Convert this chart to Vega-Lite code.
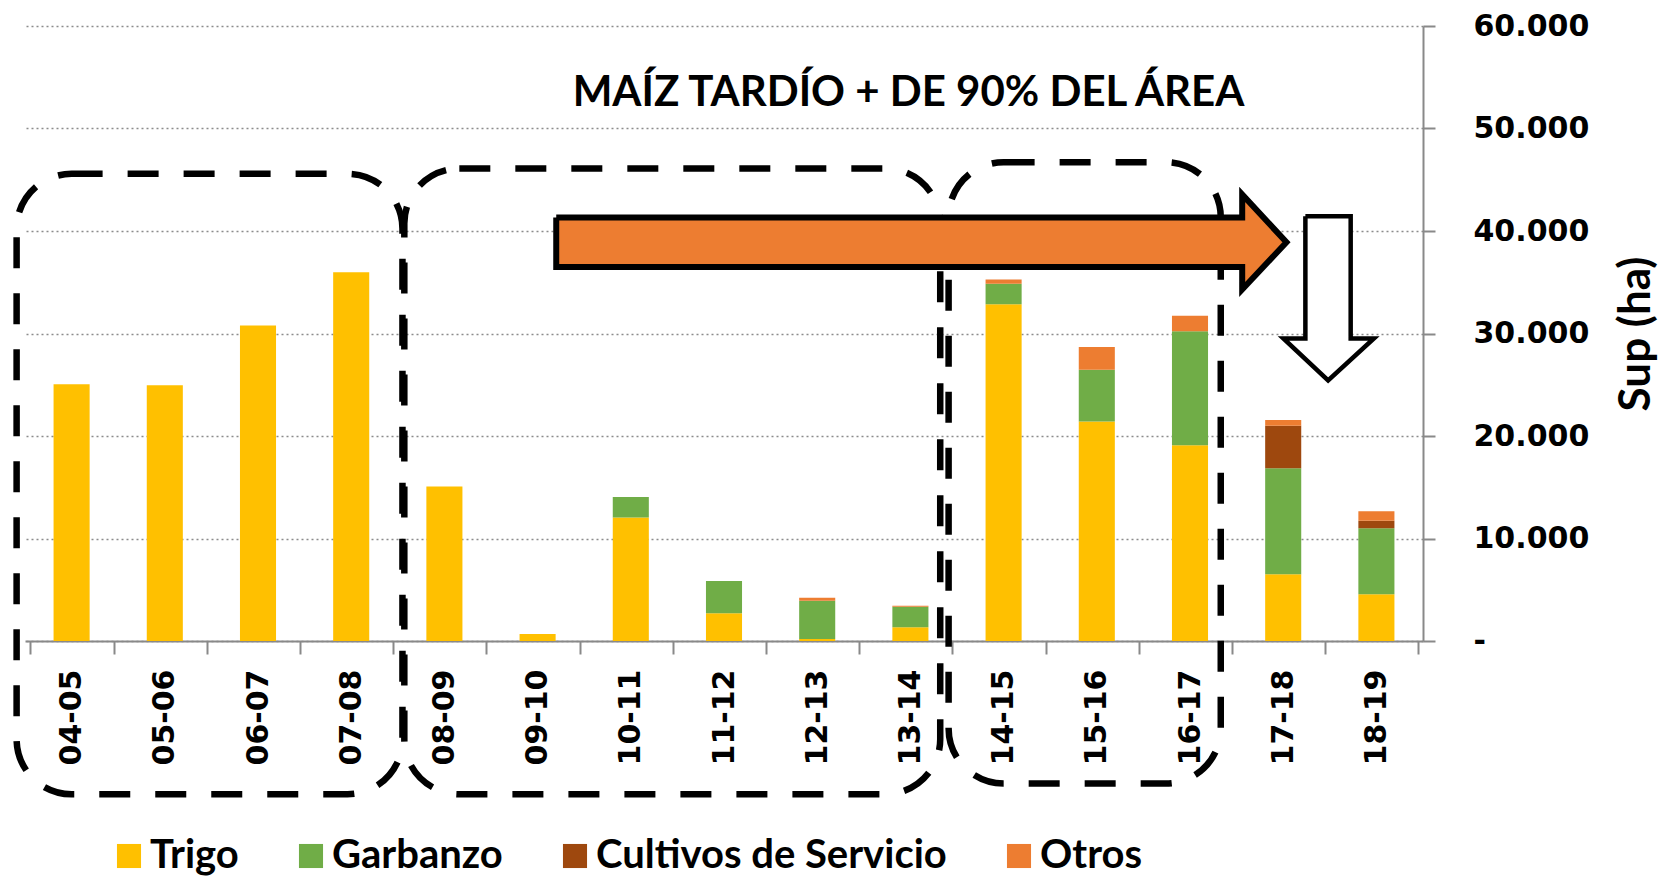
{
  "$schema": "https://vega.github.io/schema/vega-lite/v6.json",
  "width": 1398,
  "height": 615,
  "autosize": "none",
  "padding": {"left": 25, "top": 26, "right": 248, "bottom": 236},
  "background": "white",
  "config": {"view": {"stroke": null}},
  "datasets": {
    "cultivos": [
      {"campania": "04-05", "cultivo": "Trigo", "ha": 25050},
      {"campania": "05-06", "cultivo": "Trigo", "ha": 24950},
      {"campania": "06-07", "cultivo": "Trigo", "ha": 30780},
      {"campania": "07-08", "cultivo": "Trigo", "ha": 35970},
      {"campania": "08-09", "cultivo": "Trigo", "ha": 15080},
      {"campania": "09-10", "cultivo": "Trigo", "ha": 690},
      {"campania": "10-11", "cultivo": "Trigo", "ha": 12050},
      {"campania": "10-11", "cultivo": "Garbanzo", "ha": 1990},
      {"campania": "11-12", "cultivo": "Trigo", "ha": 2700},
      {"campania": "11-12", "cultivo": "Garbanzo", "ha": 3150},
      {"campania": "12-13", "cultivo": "Trigo", "ha": 200},
      {"campania": "12-13", "cultivo": "Garbanzo", "ha": 3720},
      {"campania": "12-13", "cultivo": "Otros", "ha": 310},
      {"campania": "13-14", "cultivo": "Trigo", "ha": 1350},
      {"campania": "13-14", "cultivo": "Garbanzo", "ha": 1980},
      {"campania": "13-14", "cultivo": "Otros", "ha": 120},
      {"campania": "14-15", "cultivo": "Trigo", "ha": 32850},
      {"campania": "14-15", "cultivo": "Garbanzo", "ha": 2000},
      {"campania": "14-15", "cultivo": "Otros", "ha": 420},
      {"campania": "15-16", "cultivo": "Trigo", "ha": 21420},
      {"campania": "15-16", "cultivo": "Garbanzo", "ha": 5050},
      {"campania": "15-16", "cultivo": "Otros", "ha": 2220},
      {"campania": "16-17", "cultivo": "Trigo", "ha": 19100},
      {"campania": "16-17", "cultivo": "Garbanzo", "ha": 11130},
      {"campania": "16-17", "cultivo": "Otros", "ha": 1500},
      {"campania": "17-18", "cultivo": "Trigo", "ha": 6520},
      {"campania": "17-18", "cultivo": "Garbanzo", "ha": 10340},
      {"campania": "17-18", "cultivo": "Cultivos de Servicio", "ha": 4140},
      {"campania": "17-18", "cultivo": "Otros", "ha": 560},
      {"campania": "18-19", "cultivo": "Trigo", "ha": 4550},
      {"campania": "18-19", "cultivo": "Garbanzo", "ha": 6450},
      {"campania": "18-19", "cultivo": "Cultivos de Servicio", "ha": 720},
      {"campania": "18-19", "cultivo": "Otros", "ha": 930}
    ],
    "recuadros": [
      {"desde": -0.09, "hasta": 4.05, "arriba": 45580, "abajo": -14950},
      {"desde": 4.07, "hasta": 9.82, "arriba": 46100, "abajo": -14950},
      {"desde": 9.91, "hasta": 12.83, "arriba": 46710, "abajo": -13900}
    ],
    "flecha_naranja": [
      {"i": 0, "px": 5.70, "py": 41316},
      {"i": 1, "px": 13.06, "py": 41316},
      {"i": 2, "px": 13.06, "py": 43560},
      {"i": 3, "px": 13.535, "py": 38907},
      {"i": 4, "px": 13.06, "py": 34293},
      {"i": 5, "px": 13.06, "py": 36487},
      {"i": 6, "px": 5.70, "py": 36487},
      {"i": 7, "px": 5.70, "py": 41316}
    ],
    "flecha_blanca": [
      {"i": 0, "px": 13.738, "py": 41444},
      {"i": 1, "px": 14.224, "py": 41444},
      {"i": 2, "px": 14.224, "py": 29512},
      {"i": 3, "px": 14.473, "py": 29512},
      {"i": 4, "px": 13.982, "py": 25415},
      {"i": 5, "px": 13.502, "py": 29512},
      {"i": 6, "px": 13.738, "py": 29512},
      {"i": 7, "px": 13.738, "py": 41444}
    ],
    "titulo": [
      {"px": 9.48, "py": 53500, "texto": "MAÍZ TARDÍO + DE 90% DEL ÁREA"}
    ]
  },
  "layer": [
    {
      "data": {"name": "cultivos"},
      "transform": [
        {"calculate": "indexof(['Trigo', 'Garbanzo', 'Cultivos de Servicio', 'Otros'], datum.cultivo)", "as": "orden"}
      ],
      "mark": {"type": "bar", "width": {"band": 0.43}},
      "encoding": {
        "x": {
          "field": "campania",
          "type": "nominal",
          "sort": null,
          "title": null,
          "axis": {
            "labelAngle": -90,
            "labelFont": "DejaVu Sans",
            "labelFontWeight": "bold",
            "labelFontSize": 30,
            "labelColor": "#000000",
            "labelPadding": 15,
            "tickSize": 13,
            "tickBand": "extent",
            "tickColor": "#898989",
            "tickWidth": 2,
            "domainColor": "#898989",
            "domainWidth": 2
          }
        },
        "y": {
          "aggregate": "sum",
          "field": "ha",
          "type": "quantitative",
          "stack": "zero",
          "scale": {"domain": [0, 60000], "nice": false},
          "title": "Sup (ha)",
          "axis": {
            "orient": "right",
            "values": [0, 10000, 20000, 30000, 40000, 50000, 60000],
            "labelExpr": "datum.value === 0 ? '-' : replace(format(datum.value, ',d'), ',', '.')",
            "labelFont": "DejaVu Sans",
            "labelFontWeight": "bold",
            "labelFontSize": 30,
            "labelColor": "#000000",
            "labelPadding": 38,
            "tickSize": 12,
            "tickColor": "#898989",
            "tickWidth": 2,
            "domainColor": "#898989",
            "domainWidth": 2,
            "grid": true,
            "gridColor": "#8c8c8c",
            "gridDash": [2, 3],
            "gridWidth": 1.5,
            "titleFont": "Lato",
            "titleFontWeight": "bold",
            "titleFontSize": 44,
            "titleColor": "#000000",
            "titleAngle": 270,
            "titlePadding": 70
          }
        },
        "color": {
          "field": "cultivo",
          "type": "nominal",
          "sort": ["Trigo", "Garbanzo", "Cultivos de Servicio", "Otros"],
          "scale": {
            "domain": ["Trigo", "Garbanzo", "Cultivos de Servicio", "Otros"],
            "range": ["#FFC000", "#70AD47", "#9E480E", "#ED7D31"]
          },
          "legend": {
            "title": null,
            "orient": "none",
            "legendX": 84,
            "legendY": 810,
            "direction": "horizontal",
            "columns": 4,
            "symbolType": "square",
            "symbolSize": 580,
            "symbolStrokeWidth": 0,
            "labelFont": "Lato",
            "labelFontWeight": "bold",
            "labelFontSize": 40,
            "labelColor": "#000000",
            "labelOffset": 1,
            "columnPadding": 52,
            "labelLimit": 600
          }
        },
        "order": {"field": "orden", "type": "quantitative"}
      }
    },
    {
      "data": {"name": "recuadros"},
      "mark": {"type": "rect", "filled": false, "color": "#000000", "strokeWidth": 6.5, "strokeDash": [31, 25], "cornerRadius": 55, "clip": false},
      "encoding": {
        "x": {"field": "desde", "type": "quantitative", "scale": {"domain": [0, 15], "nice": false, "zero": false}, "axis": null},
        "x2": {"field": "hasta"},
        "y": {"field": "arriba", "type": "quantitative", "scale": {"domain": [0, 60000], "nice": false}, "axis": null},
        "y2": {"field": "abajo"}
      }
    },
    {
      "data": {"name": "flecha_naranja"},
      "mark": {"type": "line", "fill": "#ED7D31", "stroke": "#000000", "strokeWidth": 6, "strokeJoin": "miter", "clip": false},
      "encoding": {
        "x": {"field": "px", "type": "quantitative", "scale": {"domain": [0, 15], "nice": false, "zero": false}, "axis": null},
        "y": {"field": "py", "type": "quantitative", "scale": {"domain": [0, 60000], "nice": false}, "axis": null},
        "order": {"field": "i", "type": "quantitative"}
      }
    },
    {
      "data": {"name": "flecha_blanca"},
      "mark": {"type": "line", "fill": "#FFFFFF", "stroke": "#000000", "strokeWidth": 4.5, "strokeJoin": "miter", "clip": false},
      "encoding": {
        "x": {"field": "px", "type": "quantitative", "scale": {"domain": [0, 15], "nice": false, "zero": false}, "axis": null},
        "y": {"field": "py", "type": "quantitative", "scale": {"domain": [0, 60000], "nice": false}, "axis": null},
        "order": {"field": "i", "type": "quantitative"}
      }
    },
    {
      "data": {"name": "titulo"},
      "mark": {"type": "text", "font": "Lato", "fontWeight": "bold", "fontSize": 42, "color": "#000000", "align": "center", "baseline": "middle", "clip": false},
      "encoding": {
        "x": {"field": "px", "type": "quantitative", "scale": {"domain": [0, 15], "nice": false, "zero": false}, "axis": null},
        "y": {"field": "py", "type": "quantitative", "scale": {"domain": [0, 60000], "nice": false}, "axis": null},
        "text": {"field": "texto"}
      }
    }
  ],
  "resolve": {"scale": {"x": "independent", "y": "independent"}, "axis": {"x": "independent", "y": "independent"}}
}
